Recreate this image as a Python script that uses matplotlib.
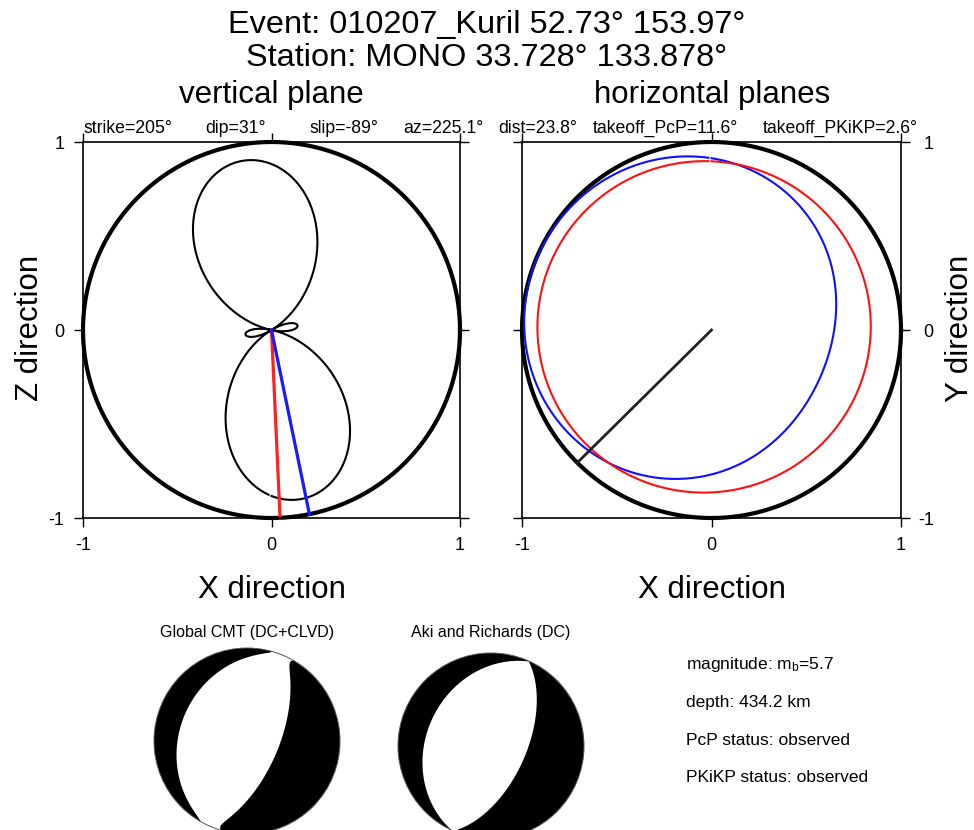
import numpy as np
import matplotlib
matplotlib.use("Agg")
import matplotlib.pyplot as plt
from matplotlib.patches import Circle

plt.rcParams['font.family'] = ['Liberation Sans', 'DejaVu Sans']
plt.rcParams['mathtext.fontset'] = 'custom'
plt.rcParams['mathtext.rm'] = 'Liberation Sans'
plt.rcParams['mathtext.it'] = 'Liberation Sans'
plt.rcParams['axes.unicode_minus'] = False

# ---- event / station metadata ----
event_name = "010207_Kuril"
event_lat, event_lon = 52.73, 153.97
station_name = "MONO"
station_lat, station_lon = 33.728, 133.878

# ---- focal mechanism (Aki & Richards double couple) ----
strike, dip, slip = 205, 31, -89
azimuth = 225.1
distance = 23.8
takeoff_pcp = 11.6
takeoff_pkikp = 2.6
magnitude_mb = 5.7
depth_km = 434.2
pcp_status = "observed"
pkikp_status = "observed"

# ---- Global CMT principal axes (T, N, P): eigenvalue, plunge, azimuth ----
cmt_axis_value = [1.0, -0.012, -0.988]
cmt_axis_plunge = [17, 0, 73]
cmt_axis_azimuth = [113, 23, 293]

tick_values = [-1, 0, 1]
tick_labels = ["-1", "0", "1"]

W, H = 974, 830
fig = plt.figure(figsize=(W / 100, H / 100), dpi=100)


def fx(x):
    return x / W


def fy(y):
    return 1 - y / H


def dc_tensor(stk, dp, rk):
    """Moment tensor (North, East, Down) of a double couple."""
    s, d, r = np.radians([stk, dp, rk])
    mxx = -(np.sin(d) * np.cos(r) * np.sin(2 * s) + np.sin(2 * d) * np.sin(r) * np.sin(s) ** 2)
    mxy = np.sin(d) * np.cos(r) * np.cos(2 * s) + 0.5 * np.sin(2 * d) * np.sin(r) * np.sin(2 * s)
    mxz = -(np.cos(d) * np.cos(r) * np.cos(s) + np.cos(2 * d) * np.sin(r) * np.sin(s))
    myy = np.sin(d) * np.cos(r) * np.sin(2 * s) - np.sin(2 * d) * np.sin(r) * np.cos(s) ** 2
    myz = -(np.cos(d) * np.cos(r) * np.sin(s) - np.cos(2 * d) * np.sin(r) * np.cos(s))
    mzz = np.sin(2 * d) * np.sin(r)
    return np.array([[mxx, mxy, mxz], [mxy, myy, myz], [mxz, myz, mzz]])


def axes_tensor(values, plunges, azimuths):
    m = np.zeros((3, 3))
    for val, pl, az in zip(values, plunges, azimuths):
        p, a = np.radians([pl, az])
        v = np.array([np.cos(p) * np.cos(a), np.cos(p) * np.sin(a), np.sin(p)])
        m += val * np.outer(v, v)
    return m


def amplitude(m, d):
    # d: (..., 3) direction vectors
    return np.einsum('...i,ij,...j->...', d, m, d)


M_dc = dc_tensor(strike, dip, slip)
M_cmt = axes_tensor(cmt_axis_value, cmt_axis_plunge, cmt_axis_azimuth)


def style_frame(ax, right_labels=False):
    ax.set_xlim(-1, 1)
    ax.set_ylim(-1, 1)
    ax.set_xticks(tick_values)
    ax.set_xticklabels(tick_labels)
    ax.set_yticks(tick_values)
    ax.set_yticklabels(tick_labels)
    ax.tick_params(direction='out', length=6.5, width=1.0, labelsize=13,
                   top=True, right=True, pad=7)
    if right_labels:
        ax.tick_params(axis='y', labelleft=False, labelright=True, pad=17)
        for lab in ax.get_yticklabels():
            lab.set_horizontalalignment('right')
    for sp in ax.spines.values():
        sp.set_linewidth(1.2)


# ---------------- vertical plane ----------------
axv = fig.add_axes([fx(83), fy(518), 377 / W, 376 / H])
style_frame(axv)
t = np.linspace(0, 2 * np.pi, 721)
axv.plot(np.cos(t), np.sin(t), color='black', lw=3.0, clip_on=False)

az = np.radians(azimuth)
theta = np.radians(np.arange(-90, 270, 1.0))
hdir = np.array([np.cos(az), np.sin(az), 0.0])
updir = np.array([0.0, 0.0, -1.0])
dirs = np.cos(theta)[:, None] * hdir + np.sin(theta)[:, None] * updir
rv = np.abs(amplitude(M_dc, dirs))
axv.plot(rv * np.cos(theta), rv * np.sin(theta), color='black', lw=1.5)

for ang, col in [(takeoff_pkikp, '#ff2020'), (takeoff_pcp, '#1a1aff')]:
    a = np.radians(ang)
    axv.plot([0, np.sin(a)], [0, -np.cos(a)], color=col, lw=2.3, clip_on=False)

# ---------------- horizontal planes ----------------
axh = fig.add_axes([fx(522), fy(518), 379 / W, 376 / H])
style_frame(axh, right_labels=True)
axh.plot(np.cos(t), np.sin(t), color='black', lw=3.0, clip_on=False)

phi = np.radians(np.arange(0, 360, 1.0))
for ang, col in [(takeoff_pcp, '#1010ff'), (takeoff_pkikp, '#ff1010')]:
    i = np.radians(ang)
    d = np.stack([np.sin(i) * np.cos(phi), np.sin(i) * np.sin(phi),
                  np.full_like(phi, np.cos(i))], axis=-1)
    rh = np.abs(amplitude(M_dc, d))
    axh.plot(rh * np.sin(phi), rh * np.cos(phi), color=col, lw=1.5)
axh.plot([0, np.sin(az)], [0, np.cos(az)], color='#222222', lw=2.0)

# ---------------- axis labels and titles ----------------
fig.text(fx(487), fy(33), f"Event: {event_name} {event_lat:.2f}\u00b0 {event_lon:.2f}\u00b0",
         ha='center', va='baseline', fontsize=23.4)
fig.text(fx(487), fy(66), f"Station: {station_name} {station_lat:.3f}\u00b0 {station_lon:.3f}\u00b0",
         ha='center', va='baseline', fontsize=23.4)
fig.text(fx(271), fy(103), "vertical plane", ha='center', va='baseline', fontsize=22.5)
fig.text(fx(712), fy(103), "horizontal planes", ha='center', va='baseline', fontsize=22.5)

fig.text(fx(271.5), fy(598), "X direction", ha='center', va='baseline', fontsize=22.5)
fig.text(fx(711.5), fy(598), "X direction", ha='center', va='baseline', fontsize=22.5)
fig.text(fx(38), fy(328), "Z direction", ha='center', va='baseline', fontsize=22.5,
         rotation=90, rotation_mode='anchor')
fig.text(fx(968), fy(328), "Y direction", ha='center', va='baseline', fontsize=22.5,
         rotation=90, rotation_mode='anchor')

small = 12.7
fig.text(fx(83), fy(133), f"strike={strike}\u00b0", fontsize=small, va='baseline')
fig.text(fx(205), fy(133), f"dip={dip}\u00b0", fontsize=small, va='baseline')
fig.text(fx(310), fy(133), f"slip={slip}\u00b0", fontsize=small, va='baseline')
fig.text(fx(403), fy(133), f"az={azimuth}\u00b0", fontsize=small, va='baseline')
fig.text(fx(498), fy(133), f"dist={distance}\u00b0", fontsize=small, va='baseline')
fig.text(fx(593), fy(133), f"takeoff_PcP={takeoff_pcp}\u00b0", fontsize=small, va='baseline')
fig.text(fx(763), fy(133), f"takeoff_PKiKP={takeoff_pkikp}\u00b0", fontsize=small, va='baseline')

# ---------------- beach balls (lower hemisphere, equal area) ----------------
def beachball(cx, cy, m, title):
    rad = 93
    ax = fig.add_axes([fx(cx - rad), fy(cy + rad), 2 * rad / W, 2 * rad / H])
    ax.set_xlim(-1, 1)
    ax.set_ylim(-1, 1)
    ax.axis('off')
    g = np.linspace(-1.02, 1.02, 700)
    X, Y = np.meshgrid(g, g)
    R = np.clip(np.hypot(X, Y), 0, 1)
    inc = 2 * np.arcsin(R / np.sqrt(2))
    az_g = np.arctan2(X, Y)
    d = np.stack([np.sin(inc) * np.cos(az_g), np.sin(inc) * np.sin(az_g), np.cos(inc)], axis=-1)
    A = amplitude(m, d)
    circ = Circle((0, 0), 1, transform=ax.transData, facecolor='none')
    cs = ax.contourf(X, Y, A, levels=[0, 100], colors='black', antialiased=True)
    cs.set_clip_path(circ)
    ax.add_patch(Circle((0, 0), 1, facecolor='none', edgecolor='#555555', lw=0.7, clip_on=False))
    fig.text(fx(cx), fy(637), title, ha='center', va='baseline', fontsize=11.5)


beachball(247, 741, M_cmt, "Global CMT (DC+CLVD)")
beachball(491, 746, M_dc, "Aki and Richards (DC)")

info = 12.5
fig.text(fx(686), fy(669), f"magnitude: m$_{{\\mathrm{{b}}}}$={magnitude_mb}", fontsize=info, va='baseline')
fig.text(fx(686), fy(707), f"depth: {depth_km} km", fontsize=info, va='baseline')
fig.text(fx(686), fy(745), f"PcP status: {pcp_status}", fontsize=info, va='baseline')
fig.text(fx(686), fy(782), f"PKiKP status: {pkikp_status}", fontsize=info, va='baseline')

fig.savefig("out.png", dpi=100)
